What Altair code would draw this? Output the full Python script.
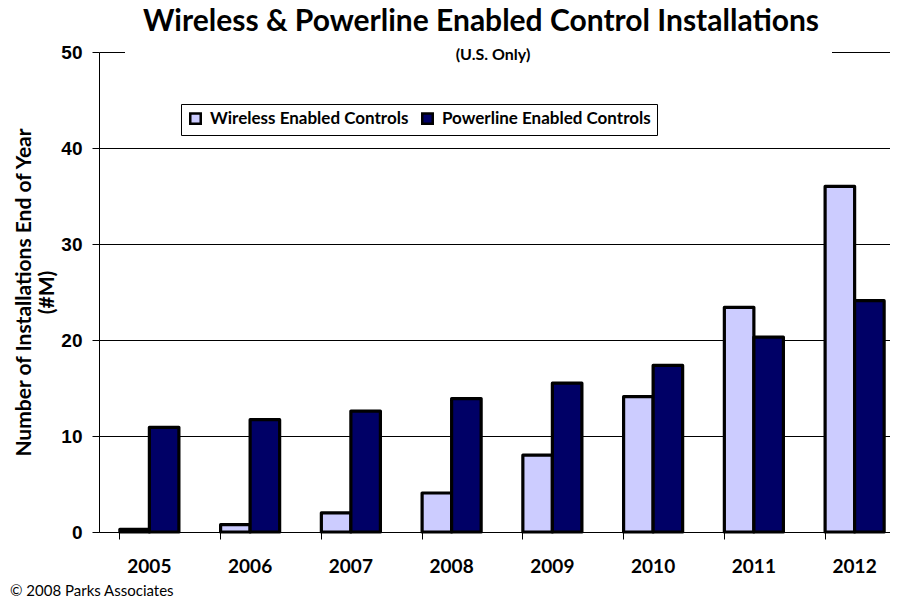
import altair as alt
import pandas as pd

years = ["2005", "2006", "2007", "2008", "2009", "2010", "2011", "2012"]
wireless = [0.27, 0.76, 2.0, 4.06, 8.0, 14.1, 23.4, 36.0]
powerline = [10.9, 11.7, 12.6, 13.9, 15.5, 17.35, 20.3, 24.1]
series_names = ["Wireless Enabled Controls", "Powerline Enabled Controls"]
series_colors = ["#CCCCFF", "#000066"]
y_ticks = [0, 10, 20, 30, 40, 50]
title_text = ["Wireless & Powerline Enabled Control Installations"]
subtitle_text = ["(U.S. Only)"]
footer_text = ["\u00a9 2008  Parks Associates"]
y_title = ["Number of Installations End of Year", "(#M)"]

rows = []
for i, yr in enumerate(years):
    rows.append({"year": yr, "series": series_names[0], "value": wireless[i]})
    rows.append({"year": yr, "series": series_names[1], "value": powerline[i]})
df = pd.DataFrame(rows)

W, H = 791, 480

bars = alt.Chart(df).mark_bar(stroke="black", strokeWidth=3.2, strokeJoin="round").encode(
    x=alt.X("year:N", sort=years,
            scale=alt.Scale(paddingInner=0.414, paddingOuter=0.207, range=[0, 806]),
            axis=alt.Axis(title=None, bandPosition=0, labelAngle=0, ticks=True, tickSize=7,
                          tickColor="black", domainColor="black", labelFont="Lato",
                          labelFontSize=19, labelFontWeight="bold", labelColor="black",
                          labelPadding=33, labelBaseline="alphabetic", grid=False)),
    xOffset=alt.XOffset("series:N", sort=series_names,
                        scale=alt.Scale(paddingInner=0, paddingOuter=0)),
    y=alt.Y("value:Q", scale=alt.Scale(domain=[0, 50], nice=False),
            axis=alt.Axis(values=y_ticks, grid=True, gridColor="black", gridOpacity=1,
                          gridWidth=1, domainColor="black", tickColor="black", tickSize=7,
                          labelPadding=10, labelFont="Liberation Sans", labelFontWeight="bold",
                          labelFontSize=19, labelColor="black",
                          title=y_title, titleFont="Lato", titleFontSize=21,
                          titleFontWeight="bold", titleColor="black", titleAngle=270,
                          titleAlign="center", titleBaseline="top", titleLineHeight=23,
                          titleX=-86, titleY=240)),
    color=alt.Color("series:N", sort=series_names,
                    scale=alt.Scale(domain=series_names, range=series_colors),
                    legend=alt.Legend(orient="none", legendX=82, legendY=52,
                                      direction="horizontal", title=None,
                                      strokeColor="black", fillColor="white", padding=6,
                                      symbolType="square", symbolSize=110,
                                      symbolStrokeColor="black", symbolStrokeWidth=2.5,
                                      symbolOpacity=1, labelFont="Lato", labelFontSize=17,
                                      labelFontWeight="bold", labelColor="black",
                                      labelLimit=0, columnPadding=8, labelOffset=6)),
)

mask = alt.Chart(pd.DataFrame({"m": [1]})).mark_rule(color="white", strokeWidth=3).encode(
    x=alt.value(26), x2=alt.value(733), y=alt.value(0)
)

title = alt.Chart(pd.DataFrame({"t": title_text})).mark_text(
    font="Lato", fontSize=30, fontWeight="bold", color="black", align="center",
    baseline="alphabetic"
).encode(text="t:N", x=alt.value(382), y=alt.value(-21))

subtitle = alt.Chart(pd.DataFrame({"t": subtitle_text})).mark_text(
    font="Lato", fontSize=16, fontWeight="bold", color="black", align="center",
    baseline="alphabetic"
).encode(text="t:N", x=alt.value(394), y=alt.value(8))

footer = alt.Chart(pd.DataFrame({"t": footer_text})).mark_text(
    font="Lato", fontSize=15, color="black", align="left", baseline="alphabetic"
).encode(text="t:N", x=alt.value(-89), y=alt.value(544))

chart = alt.layer(bars, mask, title, subtitle, footer).properties(
    width=W, height=H,
    autosize=alt.AutoSizeParams(type="none"),
    padding={"left": 91, "top": 44, "right": 0, "bottom": 67},
    background="white",
).configure_view(stroke=None)

chart.save("out.html", embed_options={"renderer": "svg", "actions": False})
